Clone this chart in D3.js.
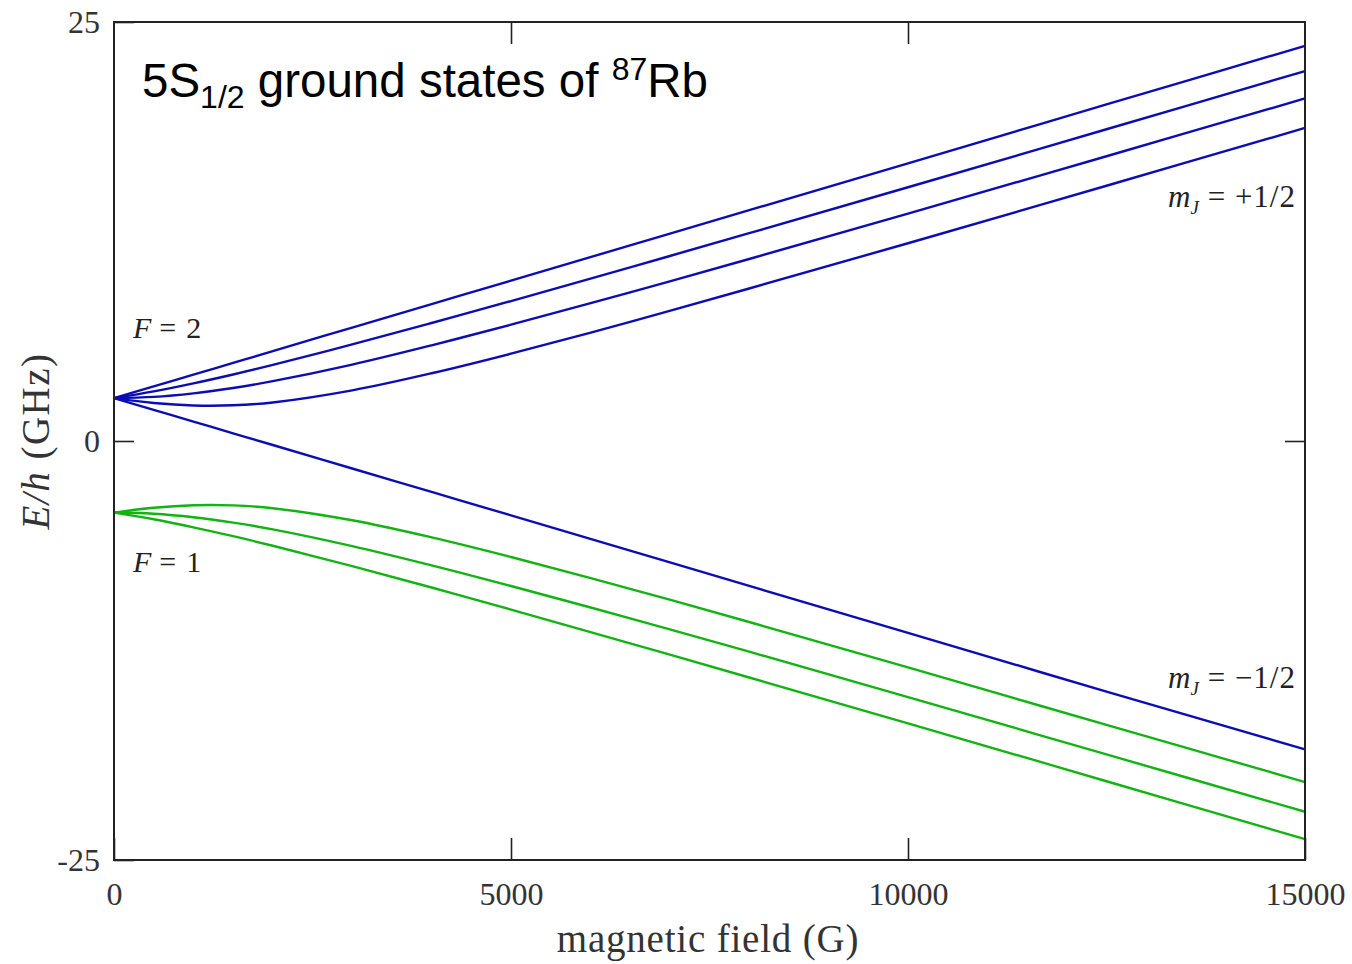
<!DOCTYPE html>
<html>
<head>
<meta charset="utf-8">
<script src="https://cdn.jsdelivr.net/npm/d3@7"></script>
<style>
  body { margin: 0; background: #fff; }
  svg { display: block; }
</style>
</head>
<body>
<svg id="chart"></svg>
<script>
// magnetic field samples (G)
const fieldG = [0, 500, 1000, 1500, 2000, 3000, 4000, 5000, 6500, 8000, 10000, 12500, 15000];

// F = 2 manifold (blue), E/h in GHz
const f2_mF2  = [2.56, 3.26, 3.96, 4.66, 5.36, 6.77, 8.17, 9.57, 11.67, 13.77, 16.57, 20.08, 23.58];
const f2_mF1  = [2.56, 2.96, 3.44, 3.97, 4.54, 5.76, 7.04, 8.35, 10.36, 12.40, 15.14, 18.60, 22.07];
const f2_mF0  = [2.56, 2.63, 2.84, 3.16, 3.57, 4.56, 5.71, 6.94, 8.87, 10.86, 13.57, 16.99, 20.44];
const f2_mFm1 = [2.56, 2.27, 2.12, 2.13, 2.30, 3.02, 4.04, 5.21, 7.11, 9.10, 11.80, 15.23, 18.68];
const f2_mFm2 = [2.56, 1.86, 1.16, 0.46, -0.24, -1.64, -3.04, -4.44, -6.54, -8.65, -11.45, -14.95, -18.40];

// F = 1 manifold (green)
const f1_mFm1 = [-4.27, -3.98, -3.83, -3.84, -4.01, -4.73, -5.75, -6.92, -8.82, -10.80, -13.51, -16.94, -20.35];
const f1_mF0  = [-4.27, -4.34, -4.55, -4.87, -5.27, -6.27, -7.42, -8.65, -10.58, -12.57, -15.28, -18.70, -22.12];
const f1_mF1  = [-4.27, -4.67, -5.15, -5.68, -6.25, -7.47, -8.74, -10.06, -12.07, -14.11, -16.85, -20.30, -23.76];

const xTicks = [0, 5000, 10000, 15000];
const yTicks = [-25, 0, 25];

const blueSeries = [f2_mF2, f2_mF1, f2_mF0, f2_mFm1, f2_mFm2];
const greenSeries = [f1_mFm1, f1_mF0, f1_mF1];

const width = 1352, height = 964;
const marginLeft = 114, marginRight = 47, marginTop = 22, marginBottom = 104;
const serif = "'Liberation Serif', 'Times New Roman', serif";

const svg = d3.select("#chart")
    .attr("width", width)
    .attr("height", height)
    .attr("viewBox", [0, 0, width, height]);

const x = d3.scaleLinear([0, 15000], [marginLeft, width - marginRight]);
const y = d3.scaleLinear([-25, 25], [height - marginBottom, marginTop]);

const line = d3.line()
    .x((d, i) => x(fieldG[i]))
    .y(d => y(d))
    .curve(d3.curveCatmullRom.alpha(0.5));

svg.append("g")
    .attr("fill", "none")
    .attr("stroke", "#0c0cb4")
    .attr("stroke-width", 2.4)
  .selectAll("path")
  .data(blueSeries)
  .join("path")
    .attr("d", line);

svg.append("g")
    .attr("fill", "none")
    .attr("stroke", "#12b312")
    .attr("stroke-width", 2.4)
  .selectAll("path")
  .data(greenSeries)
  .join("path")
    .attr("d", line);

// axes, ticks pointing inward
const styleAxis = g => {
  g.select(".domain").remove();
  g.selectAll(".tick line").attr("stroke", "#222").attr("stroke-width", 1.6);
  g.selectAll(".tick text")
    .attr("fill", "#333")
    .style("font-family", serif)
    .style("font-size", "32px");
};

const plain = d => String(d); // keeps the plain hyphen in "-25"

svg.append("g")
    .attr("transform", `translate(0,${height - marginBottom})`)
    .call(d3.axisBottom(x).tickValues(xTicks).tickSize(-22).tickPadding(22).tickFormat(plain))
    .call(styleAxis);

svg.append("g")
    .attr("transform", `translate(0,${marginTop})`)
    .call(d3.axisTop(x).tickValues([5000, 10000]).tickSize(-22).tickFormat(""))
    .call(styleAxis);

svg.append("g")
    .attr("transform", `translate(${marginLeft},0)`)
    .call(d3.axisLeft(y).tickValues(yTicks).tickSize(-20).tickPadding(14).tickFormat(plain))
    .call(styleAxis);

svg.append("g")
    .attr("transform", `translate(${width - marginRight},0)`)
    .call(d3.axisRight(y).tickValues([0]).tickSize(-20).tickFormat(""))
    .call(styleAxis);

// frame
svg.append("rect")
    .attr("x", marginLeft)
    .attr("y", marginTop)
    .attr("width", width - marginLeft - marginRight)
    .attr("height", height - marginTop - marginBottom)
    .attr("fill", "none")
    .attr("stroke", "#222")
    .attr("stroke-width", 2);

// axis titles
svg.append("text")
    .attr("x", 708)
    .attr("y", 952)
    .attr("text-anchor", "middle")
    .attr("fill", "#333")
    .style("font-family", serif)
    .style("font-size", "39px")
    .style("letter-spacing", "0.8px")
    .text("magnetic field (G)");

const yLab = svg.append("text")
    .attr("transform", `translate(49,${y(0)}) rotate(-90)`)
    .attr("text-anchor", "middle")
    .attr("fill", "#333")
    .style("font-family", serif)
    .style("font-size", "39px")
    .style("letter-spacing", "1.5px");
yLab.append("tspan").style("font-style", "italic").text("E/h");
yLab.append("tspan").text(" (GHz)");

// title
const title = svg.append("text")
    .attr("x", 142)
    .attr("y", 97)
    .attr("fill", "#000")
    .style("font-family", "'Liberation Sans', Arial, sans-serif")
    .style("font-size", "47.5px");
title.append("tspan").text("5S");
title.append("tspan").attr("dy", 11).style("font-size", "32px").text("1/2");
title.append("tspan").attr("dy", -11).text(" ground states of ");
title.append("tspan").attr("dy", -17).style("font-size", "32px").text("87");
title.append("tspan").attr("dy", 17).text("Rb");

// state labels
const fLabel = (yy, num) => {
  const t = svg.append("text")
      .attr("x", 133)
      .attr("y", yy)
      .attr("fill", "#222")
      .style("font-family", serif)
      .style("font-size", "30px");
  t.append("tspan").style("font-style", "italic").text("F");
  t.append("tspan").text(`\u2009=\u2009${num}`).style("letter-spacing", "2px");
};
fLabel(338, 2);
fLabel(572, 1);

const mLabel = (yy, val) => {
  const t = svg.append("text")
      .attr("x", 1296)
      .attr("y", yy)
      .attr("text-anchor", "end")
      .attr("fill", "#222")
      .style("font-family", serif)
      .style("font-size", "31px");
  t.append("tspan").style("font-style", "italic").text("m");
  t.append("tspan").attr("dy", 7).style("font-style", "italic").style("font-size", "19px").text("J");
  t.append("tspan").attr("dy", -7).style("letter-spacing", "1px").text(` = ${val}`);
};
mLabel(207, "+1/2");
mLabel(688, "\u22121/2");
</script>
</body>
</html>
